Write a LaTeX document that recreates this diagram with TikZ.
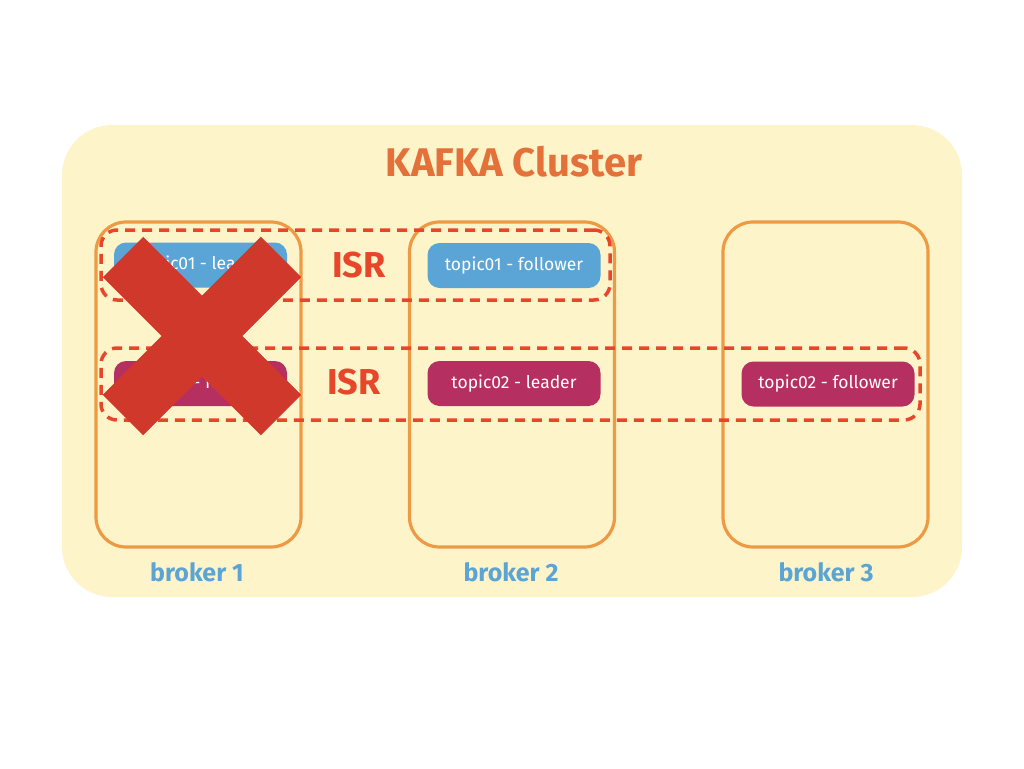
\documentclass[tikz,border=0pt]{standalone}
\usepackage{fontspec}
\setmainfont{Fira Sans}
\definecolor{clusterbg}{HTML}{FEF4C9}
\definecolor{brokerline}{HTML}{EE9A45}
\definecolor{titlecol}{HTML}{E5713A}
\definecolor{bluelab}{HTML}{5BA4D3}
\definecolor{topicblue}{HTML}{5AA5D6}
\definecolor{topicred}{HTML}{B53060}
\definecolor{isrred}{HTML}{E8462B}
\definecolor{crossred}{HTML}{D0382B}
\tikzset{
  brokerbox/.style={draw=brokerline, line width=3.2pt, rounded corners=30pt, minimum width=205pt, minimum height=325pt, inner sep=0pt},
  topicbox/.style={rounded corners=12pt, minimum width=173pt, minimum height=45pt, inner sep=0pt, text=white, font=\fontsize{17.5}{20}\selectfont},
  isrbox/.style={draw=isrred, line width=3.5pt, dash pattern=on 10pt off 7pt, rounded corners=16pt, inner sep=0pt},
  isrlabel/.style={text=isrred, font=\bfseries\fontsize{36}{40}\selectfont},
  brokerlabel/.style={text=bluelab, font=\bfseries\fontsize{25}{29}\selectfont},
  crossbar/.style={draw=crossred, line width=57pt},
}
\begin{document}
\begin{tikzpicture}[x=1pt,y=-1pt]
\useasboundingbox (0,0) rectangle (1024,768);
\fill[white] (0,0) rectangle (1024,768);
% cluster
\node[fill=clusterbg, rounded corners=50pt, minimum width=900pt, minimum height=472pt, inner sep=0pt] (cluster) at (512,361) {};
\node[text=titlecol, font=\bfseries\fontsize{40}{46}\selectfont] (title) at (514,162) {KAFKA Cluster};
% brokers
\node[brokerbox] (b1) at (198.5,384.5) {};
\node[brokerbox] (b2) at (512,384.5) {};
\node[brokerbox] (b3) at (825.5,384.5) {};
\node[brokerlabel] (l1) at (197,572) {broker 1};
\node[brokerlabel] (l2) at (511,572) {broker 2};
\node[brokerlabel] (l3) at (826,572) {broker 3};
% topics
\node[topicbox, fill=topicblue] (t1l) at (200.5,265) {topic01 - leader};
\node[topicbox, fill=topicblue] (t1f) at (514,265.5) {topic01 - follower};
\node[topicbox, fill=topicred] (t2x) at (200.5,383.5) {topic02 - follower};
\node[topicbox, fill=topicred] (t2l) at (514,383.5) {topic02 - leader};
\node[topicbox, fill=topicred] (t2f) at (828,384) {topic02 - follower};
% ISR groups
\node[isrbox, minimum width=509pt, minimum height=70pt] (isr1) at (355.5,265) {};
\node[isrbox, minimum width=819pt, minimum height=72pt] (isr2) at (510.5,384) {};
\node[isrlabel] (isrl1) at (359,265) {ISR};
\node[isrlabel] (isrl2) at (354,382) {ISR};
% cross over broker 1
\coordinate (xa) at (123,257);
\coordinate (xb) at (281,415);
\coordinate (xc) at (281,257);
\coordinate (xd) at (123,415);
\draw[crossbar] (xa) -- (xb);
\draw[crossbar] (xc) -- (xd);
\end{tikzpicture}
\end{document}
